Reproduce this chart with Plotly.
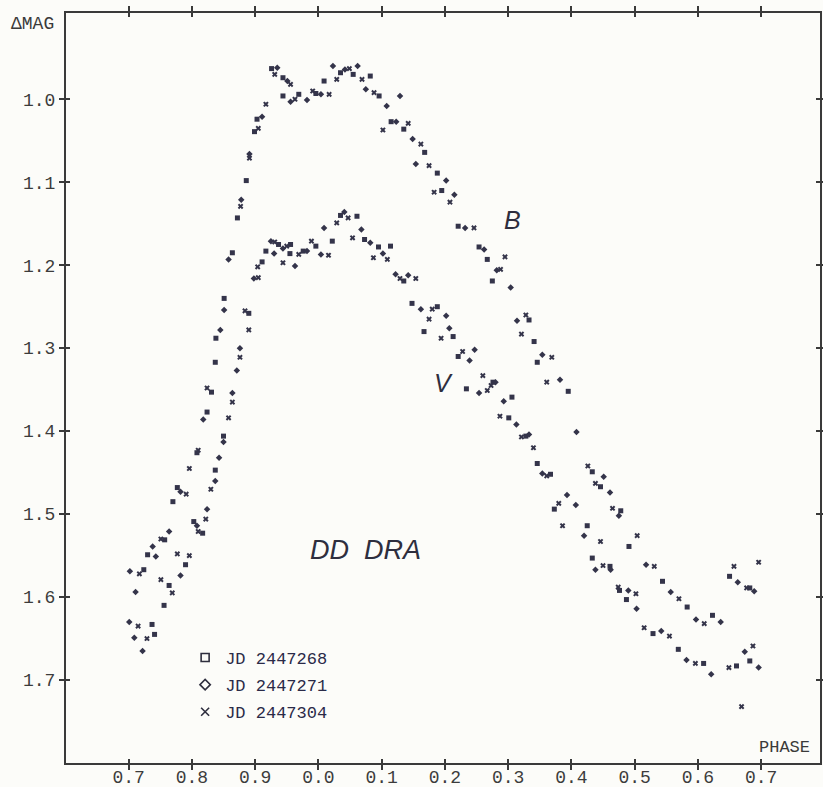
import plotly.graph_objects as go

# ---- axis ticks ----
x_tickvals = [0.7, 0.8, 0.9, 1.0, 1.1, 1.2, 1.3, 1.4, 1.5, 1.6, 1.7]
x_ticktext = ["0.7", "0.8", "0.9", "0.0", "0.1", "0.2", "0.3", "0.4", "0.5", "0.6", "0.7"]
y_tickvals = [1.0, 1.1, 1.2, 1.3, 1.4, 1.5, 1.6, 1.7]
y_ticktext = ["1.0", "1.1", "1.2", "1.3", "1.4", "1.5", "1.6", "1.7"]

# ---- data: phase (plotted continuously 0.7 .. 1.7) and delta magnitude ----
jd268_phase = [0.926, 0.944, 0.944, 0.969, 0.996, 1.009, 1.035, 1.055, 1.082, 1.096, 1.115, 0.903, 0.899, 0.886, 0.872,
               1.135, 1.168, 1.188, 1.195, 1.221, 1.254, 1.267, 1.275, 1.333, 1.341, 1.346, 1.395, 1.433, 1.446, 1.478,
               1.491, 1.544, 1.583, 1.623, 1.650, 1.682, 0.864, 0.911, 0.917, 0.937, 0.956, 0.955, 0.976, 0.996, 1.022,
               1.035, 1.061, 1.073, 1.095, 1.114, 1.135, 1.148, 1.188, 1.167, 1.213, 1.221, 1.276, 1.234, 1.306, 1.301,
               1.328, 1.346, 1.367, 1.373, 1.425, 1.433, 1.461, 1.476, 1.487, 1.529, 1.569, 1.609, 1.661, 1.682, 0.851,
               0.890, 0.838, 0.837, 0.831, 0.824, 0.850, 0.808, 0.837, 0.777, 0.770, 0.803, 0.817, 0.757, 0.730, 0.790,
               0.724, 0.764, 0.756, 0.737, 0.741]
jd268_dmag = [0.963, 0.974, 0.996, 0.994, 0.993, 0.978, 0.968, 0.970, 0.972, 0.996, 1.027, 1.024, 1.039, 1.098, 1.143,
              1.036, 1.064, 1.089, 1.110, 1.153, 1.178, 1.193, 1.219, 1.266, 1.292, 1.317, 1.352, 1.449, 1.467, 1.496,
              1.539, 1.581, 1.612, 1.622, 1.575, 1.589, 1.185, 1.196, 1.183, 1.175, 1.175, 1.186, 1.183, 1.177, 1.171,
              1.140, 1.141, 1.169, 1.178, 1.177, 1.219, 1.246, 1.250, 1.280, 1.286, 1.310, 1.341, 1.349, 1.359, 1.384,
              1.406, 1.439, 1.452, 1.494, 1.514, 1.553, 1.563, 1.592, 1.603, 1.644, 1.663, 1.680, 1.683, 1.677, 1.240,
              1.258, 1.288, 1.317, 1.353, 1.377, 1.406, 1.426, 1.447, 1.468, 1.485, 1.509, 1.523, 1.531, 1.549, 1.561,
              1.567, 1.586, 1.610, 1.633, 1.645]

jd271_phase = [0.935, 0.951, 0.956, 0.982, 1.004, 1.023, 1.042, 1.062, 1.075, 1.108, 1.123, 0.911, 0.891, 0.878, 1.129,
               1.149, 1.154, 1.202, 1.215, 1.232, 1.262, 1.282, 1.304, 1.314, 1.354, 1.382, 1.408, 1.451, 1.461, 1.475,
               1.518, 1.557, 1.597, 1.636, 1.663, 1.689, 0.858, 0.898, 0.925, 0.944, 0.930, 0.963, 0.982, 1.004, 1.009,
               1.041, 1.068, 1.082, 1.102, 1.122, 1.142, 1.162, 1.202, 1.207, 1.247, 1.239, 1.280, 1.254, 1.293, 1.313,
               1.333, 1.354, 1.393, 1.407, 1.420, 1.438, 1.462, 1.490, 1.503, 1.542, 1.582, 1.621, 1.674, 1.696, 0.851,
               0.845, 0.876, 0.871, 0.864, 0.818, 0.850, 0.843, 0.837, 0.782, 0.824, 0.808, 0.764, 0.738, 0.743, 0.702,
               0.782, 0.711, 0.701, 0.709, 0.722]
jd271_dmag = [0.962, 0.978, 1.003, 1.001, 0.994, 0.960, 0.964, 0.960, 0.988, 1.008, 1.027, 1.021, 1.066, 1.121, 0.996,
              1.048, 1.078, 1.098, 1.115, 1.155, 1.181, 1.206, 1.227, 1.267, 1.308, 1.338, 1.401, 1.455, 1.474, 1.502,
              1.561, 1.594, 1.627, 1.630, 1.582, 1.593, 1.193, 1.216, 1.171, 1.180, 1.186, 1.201, 1.183, 1.187, 1.155,
              1.136, 1.157, 1.173, 1.186, 1.211, 1.212, 1.253, 1.261, 1.276, 1.302, 1.315, 1.341, 1.354, 1.364, 1.392,
              1.404, 1.451, 1.477, 1.489, 1.526, 1.567, 1.567, 1.592, 1.614, 1.641, 1.676, 1.693, 1.666, 1.685, 1.254,
              1.278, 1.300, 1.327, 1.354, 1.386, 1.413, 1.432, 1.460, 1.473, 1.494, 1.514, 1.521, 1.539, 1.551, 1.569,
              1.574, 1.594, 1.630, 1.649, 1.665]

jd304_phase = [0.931, 0.956, 0.963, 0.991, 1.017, 1.029, 1.049, 1.069, 1.088, 1.102, 0.917, 0.905, 0.891, 0.877, 1.142,
               1.162, 1.175, 1.183, 1.208, 1.246, 1.295, 1.288, 1.328, 1.321, 1.369, 1.361, 1.426, 1.438, 1.465, 1.504,
               1.531, 1.570, 1.610, 1.657, 1.677, 1.696, 0.904, 0.905, 0.931, 0.950, 0.944, 0.969, 0.989, 1.016, 1.029,
               1.047, 1.054, 1.087, 1.109, 1.129, 1.154, 1.180, 1.175, 1.194, 1.228, 1.260, 1.273, 1.267, 1.287, 1.321,
               1.340, 1.361, 1.380, 1.386, 1.446, 1.450, 1.474, 1.502, 1.515, 1.555, 1.596, 1.649, 1.687, 1.669, 0.884,
               0.890, 0.876, 0.824, 0.864, 0.858, 0.810, 0.796, 0.830, 0.791, 0.822, 0.810, 0.751, 0.777, 0.796, 0.717,
               0.751, 0.769, 0.715, 0.729]
jd304_dmag = [0.970, 0.982, 1.000, 0.990, 0.994, 0.976, 0.963, 0.976, 0.992, 1.037, 1.006, 1.035, 1.071, 1.129, 1.029,
              1.054, 1.080, 1.112, 1.124, 1.155, 1.190, 1.205, 1.260, 1.283, 1.311, 1.341, 1.442, 1.463, 1.493, 1.526,
              1.563, 1.602, 1.632, 1.563, 1.589, 1.558, 1.202, 1.215, 1.172, 1.177, 1.197, 1.187, 1.171, 1.188, 1.149,
              1.143, 1.167, 1.191, 1.193, 1.216, 1.216, 1.253, 1.265, 1.288, 1.304, 1.333, 1.345, 1.351, 1.382, 1.407,
              1.420, 1.454, 1.487, 1.514, 1.533, 1.562, 1.588, 1.596, 1.637, 1.647, 1.680, 1.685, 1.659, 1.732, 1.255,
              1.278, 1.311, 1.348, 1.365, 1.384, 1.423, 1.445, 1.470, 1.476, 1.506, 1.521, 1.530, 1.548, 1.550, 1.572,
              1.579, 1.595, 1.635, 1.650]

night_names = ["JD 2447268", "JD 2447271", "JD 2447304"]
night_phase = [jd268_phase, jd271_phase, jd304_phase]
night_dmag = [jd268_dmag, jd271_dmag, jd304_dmag]
dot_symbols = ["square", "diamond", "x"]
legend_symbols = ["square-open", "diamond-open", "x-thin-open"]

DOT = "#34344a"
INK = "#2e2e3e"
MONO = "Liberation Mono, Courier New, monospace"
SANS = "Liberation Sans, Arial, sans-serif"

X_RANGE = [0.601, 1.793]
Y_RANGE = [1.8, 0.896]

fig = go.Figure()
for name, ph, dm, sym in zip(night_names, night_phase, night_dmag, dot_symbols):
    fig.add_trace(go.Scatter(x=ph, y=dm, mode="markers", name=name, showlegend=False,
                             marker=dict(symbol=sym, size=5, color=DOT, line=dict(width=0))))
for name, lsym in zip(night_names, legend_symbols):
    fig.add_trace(go.Scatter(x=[None], y=[None], mode="markers", name=name, legendgroup=name,
                             marker=dict(symbol=lsym, size=8, color=INK, line=dict(width=1.6, color=INK))))
# empty trace to activate overlay axes (inward tick halves)
fig.add_trace(go.Scatter(x=[None], y=[None], xaxis="x2", yaxis="y2", showlegend=False, hoverinfo="skip"))

axis_common = dict(showgrid=False, zeroline=False, showline=True, linecolor="#3a3a3a", linewidth=2,
                   ticks="outside", ticklen=5, tickwidth=1.5, tickcolor="#3a3a3a", mirror="allticks",
                   automargin=False)
overlay_common = dict(tickmode="array", showticklabels=False, showgrid=False, zeroline=False, showline=False,
                      ticks="inside", ticklen=4, tickwidth=1.5, tickcolor="#3a3a3a", mirror="allticks",
                      automargin=False)

fig.update_layout(
    width=823, height=787,
    autosize=False,
    margin=dict(l=66, r=3, t=13, b=24, pad=0, autoexpand=False),
    paper_bgcolor="#fcfcf9", plot_bgcolor="#fcfcf9",
    showlegend=True,
    legend=dict(x=0.158, y=0.164, xanchor="left", yanchor="top", bgcolor="rgba(0,0,0,0)",
                font=dict(family=MONO, size=17, color="#2a2a48"), tracegroupgap=2,
                itemsizing="trace"),
    xaxis=dict(range=X_RANGE, tickmode="array", tickvals=x_tickvals, ticktext=x_ticktext,
               tickfont=dict(family=MONO, size=18, color="#3c3c3c"), ticklabelstandoff=-9,
               **axis_common),
    yaxis=dict(range=Y_RANGE, tickmode="array", tickvals=y_tickvals, ticktext=y_ticktext,
               tickfont=dict(family=MONO, size=18, color="#3c3c3c"), **axis_common),
    xaxis2=dict(range=X_RANGE, overlaying="x", anchor="y2", side="bottom", tickvals=x_tickvals,
                **overlay_common),
    yaxis2=dict(range=Y_RANGE, overlaying="y", anchor="x2", side="left", tickvals=y_tickvals,
                **overlay_common),
    annotations=[
        dict(text="\u0394MAG", xref="paper", yref="paper", x=-0.076, y=0.985, xanchor="left", yanchor="middle",
             showarrow=False, font=dict(family=MONO, size=18, color="#3a3a3a")),
        dict(text="PHASE", xref="paper", yref="paper", x=0.917, y=0.0213, xanchor="left", yanchor="middle",
             showarrow=False, font=dict(family=MONO, size=17, color="#3a3a3a")),
        dict(text="<i>B</i>", xref="x", yref="y", x=1.307, y=1.146, showarrow=False,
             font=dict(family=SANS, size=25, color=INK)),
        dict(text="<i>V</i>", xref="x", yref="y", x=1.197, y=1.342, showarrow=False,
             font=dict(family=SANS, size=25, color=INK)),
        dict(text="<i>DD&nbsp;&nbsp;DRA</i>", xref="x", yref="y", x=1.075, y=1.543, showarrow=False,
             font=dict(family=SANS, size=27, color=INK)),
    ],
)

page_fix = (
    "var d=document.documentElement.style, b=document.body.style;"
    "d.margin='0';d.padding='0';d.overflow='hidden';d.width='823px';d.height='787px';"
    "b.margin='0';b.padding='0';b.overflow='hidden';b.width='823px';b.height='787px';"
)
fig.write_html("out.html", config={"displayModeBar": False}, post_script=page_fix)
